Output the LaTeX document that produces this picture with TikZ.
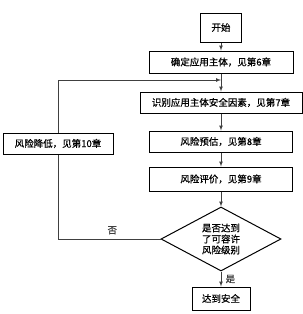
\documentclass[tikz,border=0pt]{standalone}
\usepackage{fontspec}
\newfontfamily\cjk[FakeBold=0.6]{Noto Sans CJK SC}
\usetikzlibrary{shapes.geometric}
\tikzset{
	stepbox/.style={draw, line width=1pt, inner sep=0pt, minimum height=22pt},
	linie/.style={line width=0.7pt, black!75},
	pfeil/.style={linie, -latex},
}
\begin{document}
\begin{tikzpicture}[x=1pt, y=-1pt, font=\cjk\fontsize{9.5}{11}\selectfont]
	\useasboundingbox (0,0) rectangle (303,314);
	% Kästen
	\node[stepbox, minimum width=41pt, minimum height=29pt] (start) at (221,27.5) {开始};
	\node[stepbox, minimum width=144pt] (conf) at (221,62) {确定应用主体，见第6章};
	\node[stepbox, minimum width=162pt, minimum height=21pt] (ident) at (221,102.5) {识别应用主体安全因素，见第7章};
	\node[stepbox, minimum width=143pt, minimum height=21pt] (est) at (221,141.5) {风险预估，见第8章};
	\node[stepbox, minimum width=143pt, minimum height=24pt] (eval) at (221,179) {风险评价，见第9章};
	\node[stepbox, shape=diamond, aspect=1.875, minimum width=120pt, minimum height=64pt, align=center] (diam) at (221,239)
		{是否达到\\了可容许\\风险级别};
	\node[stepbox, minimum width=58pt, minimum height=23pt] (safe) at (221,298.5) {达到安全};
	\node[stepbox, minimum width=110pt, minimum height=21pt] (reduce) at (58,143.5) {风险降低，见第10章};
	\coordinate (join) at (221,80);

	% Verbindungen
	\draw[pfeil] (start) -- (conf);
	\draw[pfeil] (conf) -- (ident);
	\draw[pfeil] (ident) -- (est);
	\draw[pfeil] (est) -- (eval);
	\draw[pfeil] (eval) -- (diam);
	\draw[pfeil] (diam) -- node[right=1pt] {是} (safe);
	\draw[linie] (diam.west) -- node[above=1pt, pos=0.47] {否} (reduce.south |- diam.west) -- (reduce.south);
	\draw[pfeil] (reduce.north) |- (join);
\end{tikzpicture}
\end{document}
